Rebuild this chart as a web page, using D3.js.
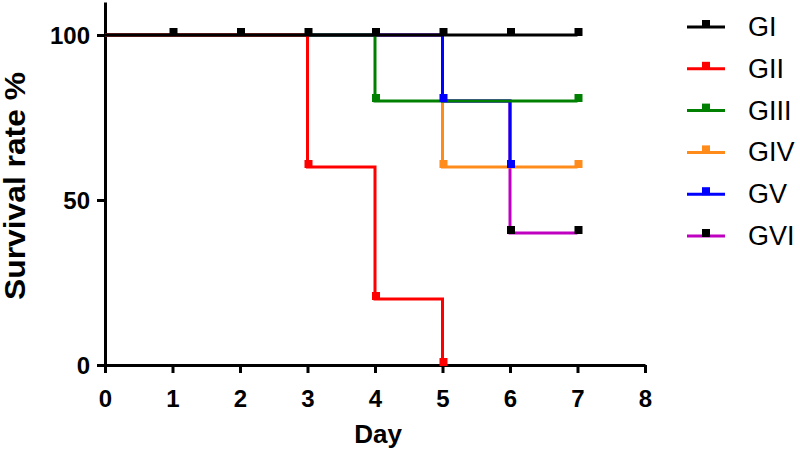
<!DOCTYPE html>
<html>
<head>
<meta charset="utf-8">
<script src="https://cdn.jsdelivr.net/npm/d3@7"></script>
<style>
  body { margin: 0; background: #fff; }
  svg text { font-family: "Liberation Sans", Arial, sans-serif; }
</style>
</head>
<body>
<div id="chart"></div>
<script>
// survival data (percent alive at each day)
var days = [0, 1, 2, 3, 4, 5, 6, 7];
var groupNames = ["GI", "GII", "GIII", "GIV", "GV", "GVI"];
var gI   = [100, 100, 100, 100, 100, 100, 100, 100];
var gII  = [100, 100, 100, 60, 20, 0, null, null];
var gIII = [100, 100, 100, 100, 80, 80, 80, 80];
var gIV  = [100, 100, 100, 100, 100, 60, 60, 60];
var gV   = [100, 100, 100, 100, 100, 80, 60, null];
var gVI  = [100, 100, 100, 100, 100, 80, 40, 40];
// days where a tick mark sits on the curve
var marksI   = [1, 2, 3, 4, 5, 6, 7];
var marksII  = [3, 4, 5];
var marksIII = [4, 7];
var marksIV  = [5, 7];
var marksV   = [5, 6];
var marksVI  = [6, 7];
var xTicks = [0, 1, 2, 3, 4, 5, 6, 7, 8];
var yTicks = [0, 50, 100];

var lineColors = ["#000000", "#ff0000", "#008000", "#ff8c1a", "#0000ff", "#c000c0"];
var markColors = ["#000000", "#ff0000", "#008000", "#ff8c1a", "#0000ff", "#000000"];
var values = [gI, gII, gIII, gIV, gV, gVI];
var marks = [marksI, marksII, marksIII, marksIV, marksV, marksVI];

var width = 800, height = 456;
var svg = d3.select("#chart").append("svg")
  .attr("width", width)
  .attr("height", height);

var x = d3.scaleLinear().domain([0, 8]).range([105, 645]);
var y = d3.scaleLinear().domain([0, 110]).range([365, 2]);

// axes
var xAxis = svg.append("g")
  .attr("transform", "translate(0,365)")
  .call(d3.axisBottom(x).tickValues(xTicks).tickSize(8).tickSizeOuter(0).tickFormat(d3.format("d")));
var yAxis = svg.append("g")
  .attr("transform", "translate(105,0)")
  .call(d3.axisLeft(y).tickValues(yTicks).tickSize(8).tickSizeOuter(0));

[xAxis, yAxis].forEach(function(a) {
  a.select(".domain").attr("stroke", "#000").attr("stroke-width", 3);
  a.selectAll(".tick line").attr("stroke", "#000").attr("stroke-width", 3);
  a.selectAll(".tick text")
    .attr("fill", "#000")
    .style("font-size", "24px")
    .style("font-weight", "bold")
    .style("font-family", "'Liberation Sans', Arial, sans-serif");
});
xAxis.selectAll(".tick text").attr("dy", null).attr("y", 42);
yAxis.selectAll(".tick text").attr("x", -15).attr("dy", "0.36em");

// axis titles
svg.append("text")
  .attr("x", 378).attr("y", 443)
  .attr("text-anchor", "middle")
  .style("font-size", "26px").style("font-weight", "bold")
  .text("Day");

svg.append("text")
  .attr("transform", "translate(25,186) rotate(-90)")
  .attr("text-anchor", "middle")
  .attr("textLength", 228).attr("lengthAdjust", "spacingAndGlyphs")
  .style("font-size", "29px").style("font-weight", "bold")
  .text("Survival rate %");

// step curves - drawn in this order so overlaps look like the original
var drawOrder = [5, 3, 4, 2, 1, 0];
var line = d3.line()
  .defined(function(d) { return d.v != null; })
  .x(function(d) { return x(d.day); })
  .y(function(d) { return y(d.v); })
  .curve(d3.curveStepAfter);

drawOrder.forEach(function(gi) {
  var pts = days.map(function(d, i) { return { day: d, v: values[gi][i] }; })
    .filter(function(p) { return p.v != null; });
  svg.append("path")
    .datum(pts)
    .attr("fill", "none")
    .attr("stroke", lineColors[gi])
    .attr("stroke-width", 3)
    .attr("d", line);
});

// tick marks on the curves
var ms = 8;
drawOrder.forEach(function(gi) {
  svg.selectAll(null)
    .data(marks[gi])
    .enter().append("rect")
    .attr("x", function(d) { return x(d) - ms / 2 + 1; })
    .attr("y", function(d) { return y(values[gi][days.indexOf(d)]) - ms + 1; })
    .attr("width", ms).attr("height", ms)
    .attr("fill", markColors[gi]);
});

// legend
var legend = svg.append("g");
groupNames.forEach(function(name, i) {
  var ly = 27 + i * 41.8;
  legend.append("line")
    .attr("x1", 687).attr("x2", 725).attr("y1", ly).attr("y2", ly)
    .attr("stroke", lineColors[i]).attr("stroke-width", 3);
  legend.append("rect")
    .attr("x", 702).attr("y", ly - ms + 1)
    .attr("width", ms).attr("height", ms)
    .attr("fill", markColors[i]);
  legend.append("text")
    .attr("x", 748).attr("y", ly + 9)
    .style("font-size", "27px")
    .text(name);
});
</script>
</body>
</html>
